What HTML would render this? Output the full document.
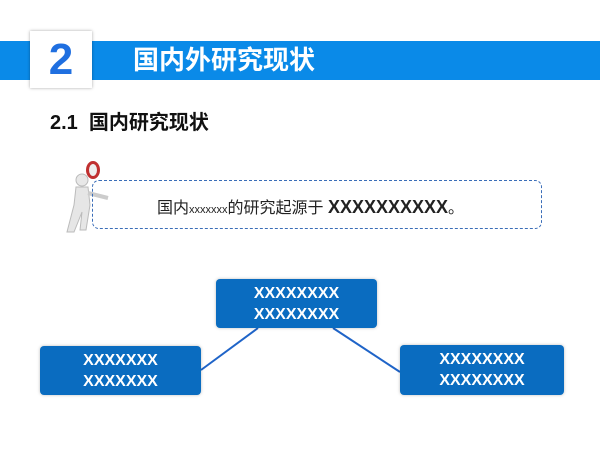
<!DOCTYPE html>
<html><head><meta charset="utf-8"><style>
body{margin:0;width:600px;height:450px;background:#fff;position:relative;overflow:hidden;font-family:"Liberation Sans","Noto Sans CJK SC",sans-serif}
.bar{position:absolute;left:0;top:41px;width:600px;height:39px;background:#0a8ae8}
.num{position:absolute;left:30px;top:31px;width:62px;height:57px;background:#fff;box-shadow:0 0 3px rgba(0,0,0,.35);color:#1f6fe0;font-weight:bold;font-size:44px;text-align:center;line-height:57px}
.title{position:absolute;left:133px;top:44px;color:#fff;font-weight:bold;font-size:26px;line-height:32px}
.sub{position:absolute;left:50px;top:106px;font-weight:bold;font-size:20px;color:#111}
.dash{position:absolute;left:92px;top:180px;width:450px;height:49px;border:1.5px dashed #3a6db8;border-radius:7px;box-sizing:border-box}
.dt{position:absolute;left:157px;top:194px;font-size:16px;color:#222;white-space:nowrap}
.b{position:absolute;background:#0a6cc0;border-radius:4px;color:#fff;font-weight:bold;font-size:16px;line-height:21px;text-align:center;box-shadow:0 0 3px rgba(0,0,0,.25);display:flex;align-items:center;justify-content:center}
</style></head><body>
<div class="bar"></div>
<div class="num">2</div>
<div class="title">国内外研究现状</div>
<div class="sub">2.1&nbsp; 国内研究现状</div>
<svg style="position:absolute;left:0;top:0" width="600" height="450">
<line x1="258" y1="328" x2="201" y2="370" stroke="#1f64c8" stroke-width="2"/>
<line x1="333" y1="328" x2="400" y2="372" stroke="#1f64c8" stroke-width="2"/>
<circle cx="82" cy="180" r="6" fill="#e8e8e8" stroke="#bbb"/>
<path d="M76 187 L88 187 L90 205 L86 230 L80 230 L82 212 L74 232 L67 232 L74 205 Z" fill="#e6e6e6" stroke="#bbb"/>
<path d="M88 193 L108 198" stroke="#ccc" stroke-width="4"/>
<ellipse cx="93" cy="170" rx="7" ry="9" fill="#c03030"/>
<ellipse cx="93" cy="170" rx="4" ry="6" fill="#eee"/>
</svg>
<div class="dash"></div>
<div class="dt">国内<span style="font-size:11px">xxxxxxx</span>的研究起源于 <b style="font-size:18px">XXXXXXXXXX</b>。</div>
<div class="b" style="left:216px;top:279px;width:161px;height:49px">XXXXXXXX<br>XXXXXXXX</div>
<div class="b" style="left:40px;top:346px;width:161px;height:49px">XXXXXXX<br>XXXXXXX</div>
<div class="b" style="left:400px;top:345px;width:164px;height:50px">XXXXXXXX<br>XXXXXXXX</div>
</body></html>
